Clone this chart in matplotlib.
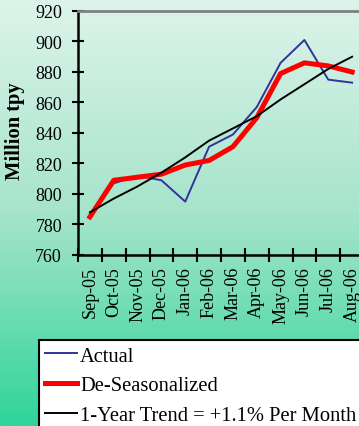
import numpy as np
import matplotlib
matplotlib.use("Agg")
import matplotlib.pyplot as plt
from matplotlib.colors import LinearSegmentedColormap

plt.rcParams['font.family'] = ['Liberation Serif', 'DejaVu Serif']

# monthly capacity, million tpy
months = ["Sep-05", "Oct-05", "Nov-05", "Dec-05", "Jan-06", "Feb-06",
          "Mar-06", "Apr-06", "May-06", "Jun-06", "Jul-06", "Aug-06"]
actual = [786, 807, 812, 809, 795, 831, 839, 857, 886, 901, 875, 873]
deseason = [785, 809, 811, 813, 819, 822, 831, 850, 879, 886, 884, 880]
trend = [788, 797, 805, 814, 824, 835, 843, 851, 862, 872, 882, 890]

fig = plt.figure(figsize=(3.59, 4.27), dpi=100)

# vertical mint-to-green backdrop
bg = fig.add_axes([0, 0, 1, 1], zorder=-1)
cmap = LinearSegmentedColormap.from_list("bg", ["#ddf4eb", "#a6e4cb", "#2fd49b"])
bg.imshow(np.linspace(0, 1, 256).reshape(-1, 1), aspect="auto", cmap=cmap,
          extent=[0, 1, 0, 1])
bg.axis("off")

ax = fig.add_axes([78 / 359, 1 - 256 / 427, 286 / 359, 244 / 427])
ax.patch.set_alpha(0)
x = np.arange(len(months))
l1, = ax.plot(x, actual, color="#333399", lw=1.4)
l2, = ax.plot(x, deseason, color="#ff0000", lw=3.6)
l3, = ax.plot(x, trend, color="black", lw=1.4)

ax.set_xlim(-0.5, len(months) - 0.5)
ax.set_ylim(760, 920)
ax.set_yticks(range(760, 921, 20))
ax.tick_params(axis="y", direction="inout", length=9, width=1.5, labelsize=13, pad=7)

ax.set_xticks(np.arange(-0.5, len(months), 1))
ax.set_xticklabels([])
ax.set_xticks(x, minor=True)
ax.set_xticklabels(months, minor=True, rotation=90, fontsize=13, va="top")
ax.tick_params(axis="x", which="major", direction="inout", length=10, width=1.5)
ax.tick_params(axis="x", which="minor", length=0, pad=8)

for s in ["left", "bottom"]:
    ax.spines[s].set_linewidth(1.8)
ax.spines["top"].set_color("#808080")
ax.spines["top"].set_linewidth(2)
ax.spines["right"].set_visible(False)

fig.text(15 / 359, 1 - 131 / 427, "Million tpy", rotation=90, fontsize=14.8,
         fontweight="bold", ha="center", va="center")

leg = fig.legend([l1, l2, l3],
                 ["Actual", "De-Seasonalized", "1-Year Trend = +1.1% Per Month"],
                 loc="upper left", bbox_to_anchor=(39 / 359, 1 - 341 / 427),
                 fontsize=14.8, frameon=True, fancybox=False, borderaxespad=0,
                 handlelength=1.55, handletextpad=0.15, labelspacing=0.5,
                 borderpad=0.3)
leg.get_frame().set_edgecolor("black")
leg.get_frame().set_linewidth(1.5)
leg.get_frame().set_alpha(1)

fig.savefig("out.png", dpi=100)
